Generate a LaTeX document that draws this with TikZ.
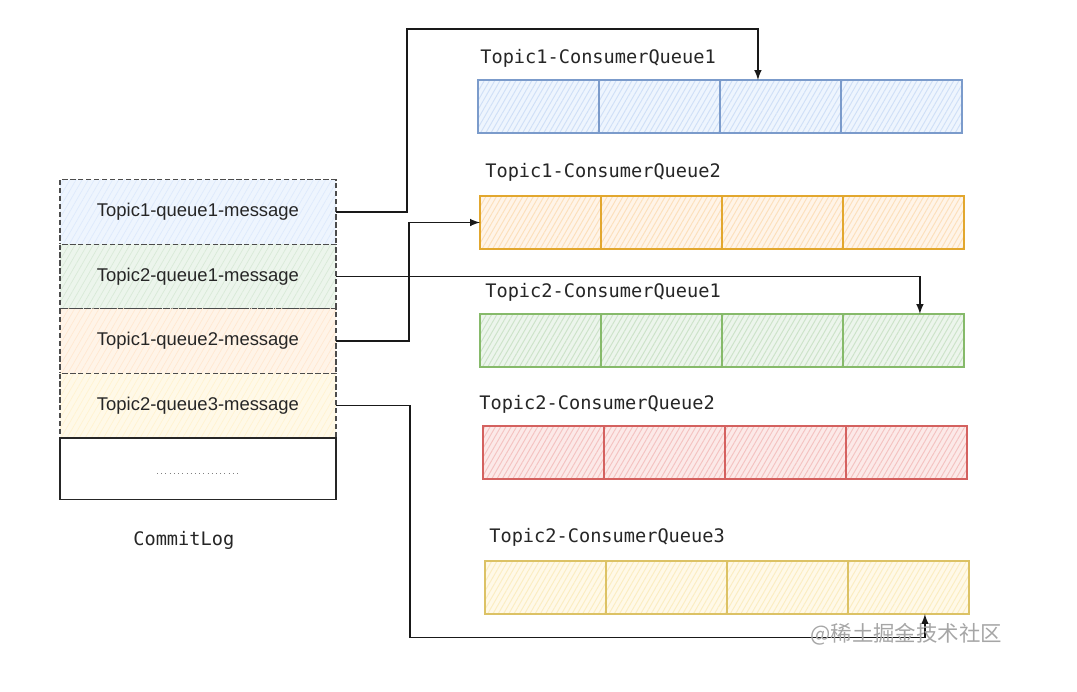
\documentclass[tikz,border=0pt]{standalone}
\usepackage{fontspec}
\setsansfont{Liberation Sans}
\newfontfamily\qfont{DejaVu Sans Mono}
\newfontfamily\cjkfont{Noto Sans CJK SC}
\usetikzlibrary{positioning,patterns.meta}

\definecolor{bluefill}{HTML}{DAE8FC}
\definecolor{blueline}{HTML}{7B9BCB}
\definecolor{greenfill}{HTML}{D5E8D4}
\definecolor{greenline}{HTML}{86BA6A}
\definecolor{orangefill}{HTML}{FFE6CC}
\definecolor{orangeline}{HTML}{E2A72E}
\definecolor{redfill}{HTML}{F8CECC}
\definecolor{redline}{HTML}{D4615F}
\definecolor{yellowfill}{HTML}{FFF2CC}
\definecolor{yellowline}{HTML}{DCC265}

\begin{document}
\begin{tikzpicture}[x=0.02cm,y=-0.02cm,>=latex,
  msgrow/.style={draw=black!70,dash pattern=on 3pt off 1.5pt,line width=0.7pt,
    minimum width=5.52cm,minimum height=1.29cm,outer sep=0pt,
    preaction={fill=#1fill!45},
    preaction={pattern={Lines[angle=60,distance=3pt,line width=0.4pt]},pattern color=#1fill!90},
    font=\sffamily\fontsize{10.5}{12}\selectfont,text=black!85},
  qcell/.style={draw=#1line,line width=0.9pt,minimum width=2.42cm,minimum height=1.06cm,outer sep=0pt,
    preaction={fill=#1fill!45},
    preaction={pattern={Lines[angle=60,distance=2.6pt,line width=0.55pt]},pattern color=#1fill!90!#1line},
  },
  qlabel/.style={anchor=west,inner sep=0pt,font=\qfont\fontsize{10.6}{12}\selectfont,text=black!85},
  link/.style={->,line width=0.95pt,black!90}]
  \useasboundingbox (0,0) rectangle (1077,691);

  % commit log
  \node[msgrow=blue] (m1) at (198,212) {Topic1-queue1-message};
  \node[msgrow=green,below=0pt of m1] (m2) {Topic2-queue1-message};
  \node[msgrow=orange,below=0pt of m2] (m3) {Topic1-queue2-message};
  \node[msgrow=yellow,below=0pt of m3] (m4) {Topic2-queue3-message};
  \node[draw=black!85,line width=0.9pt,minimum width=5.52cm,minimum height=1.24cm,
    outer sep=0pt,below=0pt of m4] (m5) {};
  \draw[black!50,dotted,line width=0.4pt] ([xshift=-0.82cm,yshift=-0.1cm]m5.center)
    -- ([xshift=0.84cm,yshift=-0.1cm]m5.center);
  \node[qlabel] (clog) at (133,540) {CommitLog};

  % consume queues
  \foreach \q/\c/\x/\y in {q1/blue/478/80,q2/orange/480/196,q3/green/480/314,
                           q4/red/483/426,q5/yellow/485/561}{
    \node[qcell=\c,anchor=north west] (\q c0) at (\x,\y) {};
    \foreach \i [count=\j from 1] in {0,1,2}
      \node[qcell=\c,right=0pt of \q c\i] (\q c\j) {};
  }
  \node[qlabel] (l1) at (480,58) {Topic1-ConsumerQueue1};
  \node[qlabel] (l2) at (485,172) {Topic1-ConsumerQueue2};
  \node[qlabel] (l3) at (485,292) {Topic2-ConsumerQueue1};
  \node[qlabel] (l4) at (479,404) {Topic2-ConsumerQueue2};
  \node[qlabel] (l5) at (489,537) {Topic2-ConsumerQueue3};

  % dispatch
  \draw[link] (m1.east) -- ++(71,0) -- ++(0,-183) -| ([xshift=-0.45cm]q1c2.north);
  \draw[link] (m3.east) -- ++(73,0) |- (q2c0.west);
  \draw[link] (m2.east) -| ([xshift=0.33cm]q3c3.north);
  \draw[link] (m4.east) -- ++(74,0) -- ++(0,232) -| ([xshift=0.33cm]q5c3.south);

  \node[anchor=west,inner sep=0pt,text=black!35,font=\cjkfont\fontsize{12.2}{14}\selectfont]
    (wm) at (810,634) {@稀土掘金技术社区};
\end{tikzpicture}
\end{document}
